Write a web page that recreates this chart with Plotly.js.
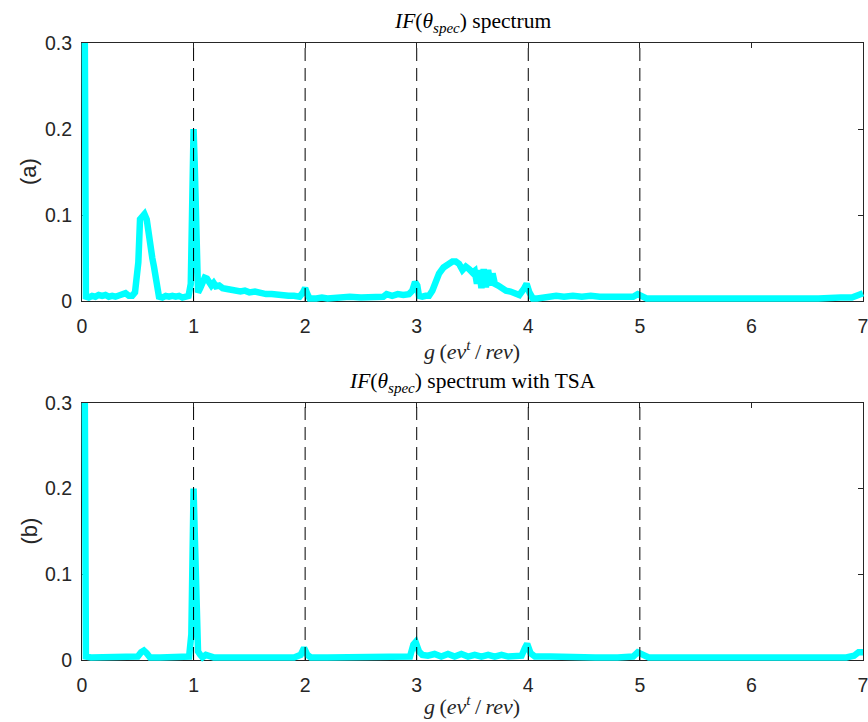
<!DOCTYPE html>
<html>
<head>
<meta charset="utf-8">
<script src="https://cdn.plot.ly/plotly-3.0.1.min.js"></script>
<style>html,body{margin:0;padding:0;background:#fff;}#chart{width:868px;height:722px;}</style>
</head>
<body>
<div id="chart"></div>
<script>
// ---- data ----
const harmonicLines = [1, 2, 3, 4, 5];
const xTicks = [0, 1, 2, 3, 4, 5, 6, 7];
const yTicks = [0, 0.1, 0.2, 0.3];

const xA = [0.025,0.035,0.06,0.09,0.12,0.15,0.18,0.21,0.24,0.27,0.30,0.33,0.36,0.39,0.42,0.45,0.475,0.49,0.505,0.52,0.54,0.56,0.58,0.60,0.615,0.63,0.645,0.66,0.675,0.69,0.72,0.75,0.78,0.81,0.84,0.87,0.90,0.93,0.955,0.975,0.99,1.0,1.01,1.025,1.04,1.06,1.08,1.10,1.12,1.14,1.16,1.18,1.20,1.23,1.26,1.30,1.34,1.38,1.42,1.46,1.50,1.55,1.60,1.65,1.70,1.75,1.80,1.85,1.90,1.95,1.98,2.0,2.02,2.04,2.10,2.15,2.20,2.30,2.40,2.50,2.60,2.70,2.73,2.78,2.83,2.88,2.93,2.96,2.985,3.005,3.02,3.05,3.08,3.11,3.14,3.17,3.20,3.24,3.28,3.32,3.35,3.38,3.41,3.44,3.47,3.50,3.52,3.54,3.56,3.58,3.60,3.62,3.64,3.66,3.68,3.70,3.73,3.76,3.80,3.84,3.88,3.92,3.96,3.985,4.01,4.04,4.08,4.12,4.18,4.25,4.32,4.40,4.48,4.56,4.64,4.72,4.80,4.88,4.94,4.98,5.02,5.06,5.2,5.4,5.6,5.8,6.0,6.2,6.4,6.6,6.8,6.9,6.96,7.0];
const yA = [0.31,0.005,0.004,0.006,0.005,0.007,0.006,0.007,0.005,0.006,0.005,0.006,0.007,0.009,0.006,0.006,0.010,0.024,0.045,0.095,0.100,0.101,0.095,0.070,0.060,0.050,0.040,0.025,0.012,0.005,0.004,0.006,0.005,0.006,0.005,0.006,0.004,0.005,0.006,0.020,0.150,0.200,0.160,0.040,0.010,0.015,0.024,0.027,0.026,0.022,0.018,0.021,0.017,0.018,0.015,0.014,0.013,0.012,0.011,0.012,0.010,0.011,0.009,0.008,0.008,0.007,0.007,0.006,0.006,0.005,0.010,0.015,0.008,0.003,0.003,0.004,0.003,0.004,0.005,0.004,0.005,0.005,0.008,0.006,0.008,0.007,0.008,0.012,0.022,0.018,0.006,0.005,0.006,0.006,0.012,0.022,0.032,0.039,0.043,0.046,0.046,0.043,0.036,0.040,0.037,0.033,0.035,0.020,0.036,0.015,0.037,0.016,0.036,0.018,0.032,0.020,0.018,0.015,0.012,0.011,0.009,0.007,0.014,0.020,0.010,0.003,0.003,0.004,0.006,0.006,0.005,0.006,0.005,0.006,0.005,0.005,0.004,0.004,0.005,0.008,0.005,0.003,0.003,0.003,0.002,0.002,0.002,0.002,0.003,0.003,0.004,0.004,0.007,0.009];

const xB = [0.025,0.035,0.08,0.15,0.25,0.35,0.45,0.50,0.53,0.555,0.58,0.61,0.70,0.80,0.90,0.96,0.98,0.99,1.0,1.01,1.025,1.04,1.06,1.08,1.11,1.14,1.18,1.3,1.5,1.7,1.9,1.96,1.99,2.02,2.05,2.2,2.4,2.6,2.8,2.94,2.97,2.99,3.02,3.05,3.10,3.16,3.22,3.28,3.34,3.40,3.46,3.52,3.58,3.64,3.70,3.76,3.82,3.88,3.94,3.97,3.99,4.02,4.06,4.2,4.4,4.6,4.8,4.94,4.98,5.02,5.08,5.3,5.6,5.9,6.0,6.1,6.4,6.7,6.85,6.92,6.96,7.0];
const yB = [0.31,0.004,0.003,0.003,0.003,0.003,0.003,0.004,0.009,0.011,0.008,0.003,0.003,0.003,0.003,0.004,0.030,0.150,0.200,0.150,0.030,0.010,0.006,0.003,0.006,0.004,0.003,0.003,0.003,0.003,0.003,0.006,0.014,0.006,0.003,0.003,0.003,0.003,0.003,0.004,0.018,0.021,0.010,0.006,0.005,0.007,0.004,0.007,0.004,0.007,0.004,0.006,0.004,0.006,0.004,0.006,0.004,0.005,0.005,0.014,0.019,0.008,0.004,0.004,0.003,0.003,0.003,0.004,0.009,0.006,0.003,0.003,0.003,0.003,0.004,0.003,0.003,0.003,0.003,0.005,0.009,0.009];

const titleA = '<i>IF</i>(<i>θ</i><sub><i>spec</i></sub>) spectrum';
const titleB = '<i>IF</i>(<i>θ</i><sub><i>spec</i></sub>) spectrum with TSA';
const xLabel = '<i>g</i>\u2009(<i>ev</i><sup><i>t</i></sup>\u2009/\u2009<i>rev</i>)';
const yLabelA = '(a)';
const yLabelB = '(b)';

// ---- geometry (pixels) ----
const W = 868, H = 722;
const L = 82, R = 863;
const topA = 43, botA = 301, topB = 403, botB = 660;
const pad = 8;
const pxPerX = (R - L) / 7;
const pxPerYA = (botA - topA) / 0.3;
const pxPerYB = (botB - topB) / 0.3;
const fy = p => 1 - p / H;

const ink = '#262626';
const tickFont = {family: 'Liberation Sans, Arial, sans-serif', size: 19.5, color: ink};

function visAxisX(anchor) {
  return {domain: [L / W, R / W], range: [0, 7.0001], anchor: anchor, tickmode: 'array', tickvals: xTicks,
    ticktext: xTicks.map(String), ticks: 'inside', ticklen: 5, tickcolor: ink, tickwidth: 1,
    showline: true, linecolor: ink, linewidth: 1, mirror: 'ticks', showgrid: false, zeroline: false,
    tickfont: tickFont, fixedrange: true, ticklabelstandoff: 8, ticklabeloverflow: 'allow'};
}
function visAxisY(anchor, top, bot) {
  return {domain: [fy(bot), fy(top)], range: [0, 0.3], anchor: anchor, tickmode: 'array', tickvals: yTicks,
    ticktext: yTicks.map(String), ticks: 'inside', ticklen: 5, tickcolor: ink, tickwidth: 1,
    showline: true, linecolor: ink, linewidth: 1, mirror: 'ticks', showgrid: false, zeroline: false,
    tickfont: tickFont, fixedrange: true, ticklabelstandoff: 5, ticklabeloverflow: 'allow'};
}
function hidX(anchor) {
  return {domain: [(L - pad) / W, 1], range: [-pad / pxPerX, 7 + (W - R) / pxPerX], anchor: anchor,
    visible: false, showgrid: false, zeroline: false, fixedrange: true};
}
function hidY(anchor, top, bot, ppy) {
  return {domain: [fy(bot + pad), fy(top)], range: [-pad / ppy, 0.3], anchor: anchor,
    visible: false, showgrid: false, zeroline: false, fixedrange: true};
}

const lineStyle = {color: '#00FFFF', width: 6.5};
const traces = [
  {x: [], y: [], xaxis: 'x', yaxis: 'y', type: 'scatter', mode: 'lines', showlegend: false, hoverinfo: 'skip'},
  {x: [], y: [], xaxis: 'x2', yaxis: 'y2', type: 'scatter', mode: 'lines', showlegend: false, hoverinfo: 'skip'},
  {x: xA, y: yA, xaxis: 'x3', yaxis: 'y3', type: 'scatter', mode: 'lines', line: lineStyle, showlegend: false, name: 'IF spectrum'},
  {x: xB, y: yB, xaxis: 'x4', yaxis: 'y4', type: 'scatter', mode: 'lines', line: lineStyle, showlegend: false, name: 'IF spectrum with TSA'}
];

const shapes = [];
harmonicLines.forEach(k => {
  shapes.push({type: 'line', xref: 'x', yref: 'y', x0: k, x1: k, y0: 0, y1: 0.3, layer: 'above',
    line: {color: '#000', width: 1, dash: '13px,7px'}});
  shapes.push({type: 'line', xref: 'x2', yref: 'y2', x0: k, x1: k, y0: 0, y1: 0.3, layer: 'above',
    line: {color: '#000', width: 1, dash: '13px,7px'}});
});

const serif = 'Liberation Serif, DejaVu Serif, serif';
const annotations = [
  {text: titleA, x: (L + R) / 2 / W, y: fy(22), xref: 'paper', yref: 'paper', showarrow: false, xanchor: 'center', yanchor: 'middle', font: {family: serif, size: 21.5, color: '#000'}},
  {text: titleB, x: (L + R) / 2 / W, y: fy(382), xref: 'paper', yref: 'paper', showarrow: false, xanchor: 'center', yanchor: 'middle', font: {family: serif, size: 21.5, color: '#000'}},
  {text: xLabel, x: (L + R) / 2 / W, y: fy(350), xref: 'paper', yref: 'paper', showarrow: false, xanchor: 'center', yanchor: 'middle', font: {family: serif, size: 22, color: ink}},
  {text: xLabel, x: (L + R) / 2 / W, y: fy(705), xref: 'paper', yref: 'paper', showarrow: false, xanchor: 'center', yanchor: 'middle', font: {family: serif, size: 22, color: ink}},
  {text: yLabelA, x: 29 / W, y: fy((topA + botA) / 2), xref: 'paper', yref: 'paper', showarrow: false, textangle: -90, xanchor: 'center', yanchor: 'middle', font: {family: 'Liberation Sans, Arial, sans-serif', size: 22, color: ink}},
  {text: yLabelB, x: 29 / W, y: fy((topB + botB) / 2), xref: 'paper', yref: 'paper', showarrow: false, textangle: -90, xanchor: 'center', yanchor: 'middle', font: {family: 'Liberation Sans, Arial, sans-serif', size: 22, color: ink}}
];

const layout = {
  width: W, height: H, margin: {l: 0, r: 0, t: 0, b: 0, pad: 0},
  paper_bgcolor: '#fff', plot_bgcolor: 'rgba(0,0,0,0)', showlegend: false,
  xaxis: visAxisX('y'), yaxis: visAxisY('x', topA, botA),
  xaxis2: visAxisX('y2'), yaxis2: visAxisY('x2', topB, botB),
  xaxis3: hidX('y3'), yaxis3: hidY('x3', topA, botA, pxPerYA),
  xaxis4: hidX('y4'), yaxis4: hidY('x4', topB, botB, pxPerYB),
  shapes: shapes, annotations: annotations
};

Plotly.newPlot('chart', traces, layout, {displayModeBar: false, staticPlot: true});
</script>
</body>
</html>
